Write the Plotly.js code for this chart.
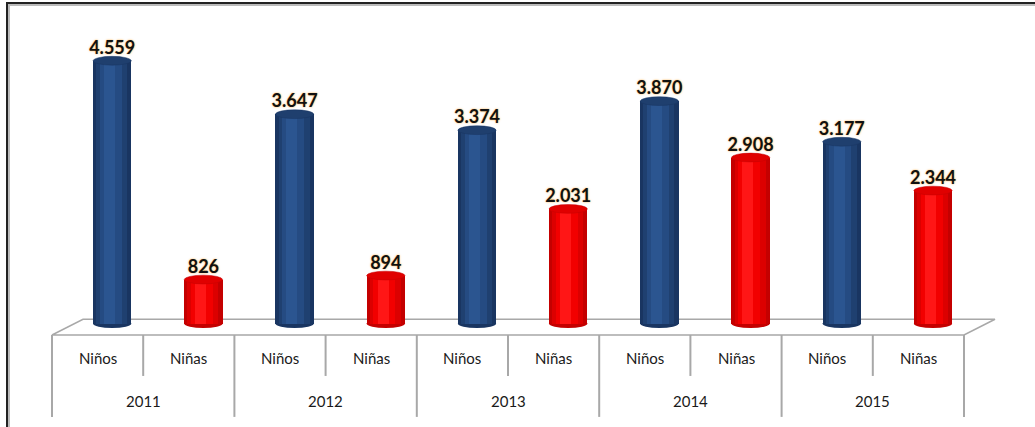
<!DOCTYPE html>
<html>
<head>
<meta charset="utf-8">
<script src="https://cdn.plot.ly/plotly-3.0.1.min.js"></script>
<style>
  html, body { margin: 0; padding: 0; background: #fff; }
  #chart { width: 1035px; height: 427px; }
  #frame {
    position: absolute; left: 6px; top: 2px; width: 1040px; height: 440px;
    border-top: 2px solid #222; border-left: 2px solid #222;
    box-shadow: inset 2px 2px 0 #bbb; pointer-events: none;
  }
</style>
</head>
<body>
<div id="chart"></div>
<div id="frame"></div>
<script>
// ===== Data =====
const years = ['2011', '2012', '2013', '2014', '2015'];
const groups = ['Niños', 'Niñas'];
const ninos = [4559, 3647, 3374, 3870, 3177];
const ninas = [826, 894, 2031, 2908, 2344];

// ===== Styling =====
const BAR_W = 0.42;
const BAR_OFF = -0.05;
const CAP = 75;   // half-height of the cylinder caps, in data units
const FONT = 'Lato, "Open Sans", sans-serif';
const SHADES = {
    'Niños': ['#193561', '#1f4070', '#254b82', '#2b5590', '#1f3f6e'],
    'Niñas': ['#c40000', '#dc0000', '#f20000', '#ff1616', '#e00000']
};
// [width, offset shift] of the stacked shading layers (outer -> highlight)
const LAYERS = [[BAR_W, 0], [0.34, 0.035], [0.24, 0.075], [0.12, 0.12]];

// flatten into one point per bar
const xYear = [], xGroup = [], vals = [];
years.forEach((y, i) => {
    xYear.push(y, y);
    xGroup.push(groups[0], groups[1]);
    vals.push(ninos[i], ninas[i]);
});
const shade = k => xGroup.map(g => SHADES[g][k]);

const traces = LAYERS.map(([w, dx], k) => {
    const t = {
        x: [xYear, xGroup],
        y: vals.map(v => v - CAP),
        base: CAP,
        type: 'bar',
        width: w,
        offset: BAR_OFF + dx,
        marker: { color: shade(k), line: { width: 0 } },
        hoverinfo: 'skip',
        cliponaxis: false
    };
    if (k === 0) {
        t.text = vals.map(v => v.toLocaleString('de-DE'));
        t.textposition = 'outside';
        t.constraintext = 'none';
        t.textfont = {
            family: FONT, size: 18, color: '#111', weight: 'bold',
            shadow: '0px 0px 2px rgba(255,150,0,0.8)'
        };
    }
    return t;
});

const shapes = [];

// floor of the 3D plot area
shapes.push({
    type: 'path', xref: 'paper', yref: 'paper', layer: 'below',
    path: 'M 0 0 L 0.034 0.05 L 1.034 0.05 L 1 0 Z',
    fillcolor: '#ffffff', line: { color: '#a8a8a8', width: 1.5 }
});

// cylinder caps (top and bottom ellipses) placed on the data scale
vals.forEach((v, i) => {
    shapes.push({
        type: 'circle', xref: 'x', yref: 'y', layer: 'above',
        x0: i + BAR_OFF, x1: i + BAR_OFF + BAR_W,
        y0: v - CAP, y1: v + CAP,
        fillcolor: shade(4)[i], line: { color: shade(0)[i], width: 0.5 }
    });
    shapes.push({
        type: 'circle', xref: 'x', yref: 'y', layer: 'below',
        x0: i + BAR_OFF, x1: i + BAR_OFF + BAR_W,
        y0: 0, y1: 2 * CAP,
        fillcolor: shade(0)[i], line: { width: 0 }
    });
});

// category table under the floor
const INNER_Y = -0.073, OUTER_Y = -0.21, INNER_DIV = -0.13, OUTER_DIV = -0.26;
const annotations = [];
xGroup.forEach((g, i) => {
    annotations.push({
        x: i, y: INNER_Y, xref: 'x', yref: 'paper', text: g, showarrow: false,
        yanchor: 'middle', font: { family: FONT, size: 15, color: '#1a1a1a' }
    });
    if (i % 2 === 1) {
        shapes.push({
            type: 'line', xref: 'x', yref: 'paper', layer: 'below',
            x0: i - 0.5, x1: i - 0.5, y0: 0, y1: INNER_DIV,
            line: { color: '#a8a8a8', width: 2 }
        });
    }
});
years.forEach((y, j) => {
    annotations.push({
        x: 2 * j + 0.5, y: OUTER_Y, xref: 'x', yref: 'paper', text: y, showarrow: false,
        yanchor: 'middle', font: { family: FONT, size: 15, color: '#1a1a1a' }
    });
    shapes.push({
        type: 'line', xref: 'paper', yref: 'paper', layer: 'below',
        x0: 2 * j / xGroup.length, x1: 2 * j / xGroup.length, y0: 0, y1: OUTER_DIV,
        line: { color: '#a8a8a8', width: 2 }
    });
});
shapes.push({
    type: 'line', xref: 'paper', yref: 'paper', layer: 'below',
    x0: 1, x1: 1, y0: 0, y1: OUTER_DIV,
    line: { color: '#a8a8a8', width: 2 }
});

const layout = {
    width: 1035,
    height: 427,
    margin: { l: 52, r: 71, t: 20, b: 92 },
    paper_bgcolor: 'rgba(0,0,0,0)',
    plot_bgcolor: 'rgba(0,0,0,0)',
    showlegend: false,
    bargap: 0,
    xaxis: {
        type: 'multicategory',
        showdividers: false,
        showticklabels: false,
        showline: false,
        showgrid: false,
        ticks: ''
    },
    yaxis: {
        range: [-120, 5254],
        visible: false,
        fixedrange: true
    },
    shapes: shapes,
    annotations: annotations
};

Plotly.newPlot('chart', traces, layout, { displayModeBar: false, staticPlot: true });
</script>
</body>
</html>
